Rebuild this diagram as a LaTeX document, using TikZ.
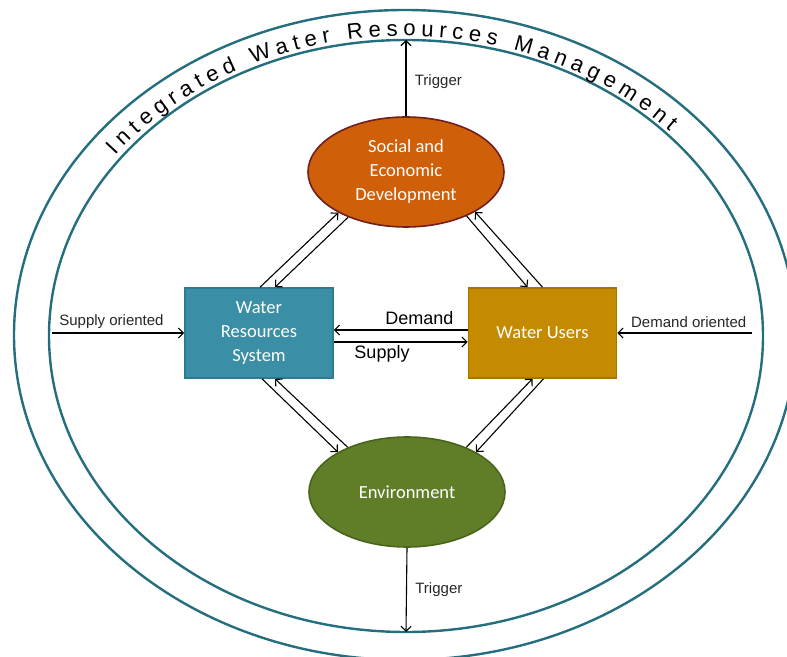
\documentclass[tikz,border=0pt]{standalone}
\usepackage{fontspec}
\setmainfont{Liberation Sans}
\newfontfamily\calibri{Carlito}
\usepackage{tikz}
\usetikzlibrary{shapes.geometric,arrows.meta,decorations.text}

\definecolor{ringteal}{RGB}{36,110,126}
\definecolor{wrsteal}{RGB}{58,143,166}
\definecolor{wrsedge}{RGB}{46,122,142}
\definecolor{usersgold}{RGB}{196,138,0}
\definecolor{usersedge}{RGB}{168,116,0}
\definecolor{socialorange}{RGB}{208,95,10}
\definecolor{socialedge}{RGB}{112,30,30}
\definecolor{envgreen}{RGB}{96,126,40}
\definecolor{envedge}{RGB}{74,100,28}
\newcommand{\titlefont}{\fontsize{22}{24}\selectfont}

\begin{document}
\begin{tikzpicture}[x=1pt,y=1pt,>={Straight Barb[length=5pt,width=10pt]},
	link/.style={->,line width=1.1pt},
	ring/.style={draw=ringteal,line width=2.4pt},
	note/.style={font=\fontsize{15}{17}\selectfont,text=black!85},
	flow/.style={font=\fontsize{18}{20}\selectfont},
	box/.style={rectangle,line width=1.6pt,minimum width=148,minimum height=90,text=white,align=center,font=\calibri\fontsize{18.5}{24}\selectfont},
	blob/.style={ellipse,line width=1.6pt,inner sep=0pt,minimum width=196,minimum height=110,text=white,align=center,font=\calibri\fontsize{18.5}{24}\selectfont}]
		\useasboundingbox (0,0) rectangle (787,656);
		\clip (0,0) rectangle (787,656);
		\draw[ring] (405,321) ellipse[x radius=391,y radius=325];
		\draw[ring] (406,320) ellipse[x radius=357,y radius=296];
		\begin{scope}
		\titlefont
		\path[decorate,decoration={text along path,text align={fit to path},text={Integrated Water Resources Management}}]
			(405,320) ++(143:362 and 300) arc[start angle=143,end angle=43,x radius=362,y radius=300];
		\end{scope}

		\node[blob,fill=socialorange,draw=socialedge] (social) at (406,484) {Social and\\Economic\\Development};
		\node[blob,fill=envgreen,draw=envedge] (env) at (407,164) {Environment};
		\node[box,fill=wrsteal,draw=wrsedge] (wrs) at (259,323) {Water\\Resources\\System};
		\node[box,fill=usersgold,draw=usersedge] (users) at (542.5,323) {Water Users};

		\coordinate (ringtop) at (406,616);
		\coordinate (ringbottom) at (406,24);
		\coordinate (supplyin) at (52,323);
		\coordinate (demandin) at (752,323);

		\draw[link] (social.north) -- (ringtop) node[note,pos=0.45,right=5pt] {Trigger};
		\draw[link] (env.south) -- (ringbottom) node[note,midway,right=5pt] {Trigger};
		\draw[link] (supplyin) -- (wrs.west) node[note,pos=0.45,above=1pt] {Supply oriented};
		\draw[link] (demandin) -- (users.east) node[note,pos=0.47,above=1pt] {Demand oriented};
		\draw[link] ([yshift=3]users.west) -- ([yshift=3]wrs.east) node[flow,pos=0.36,above=1pt] {Demand};
		\draw[link] ([yshift=-9]wrs.east) -- ([yshift=-9]users.west) node[flow,pos=0.36,below=0pt] {Supply};

		\draw[link] ([xshift=1]wrs.north) -- (social.211);
		\draw[link] (social.218) -- ([xshift=16]wrs.north);
		\draw[link] (social.324) -- ([xshift=-15]users.north);
		\draw[link] (users.north) -- (social.330);
		\draw[link] ([xshift=3]wrs.south) -- (env.150);
		\draw[link] (env.143) -- ([xshift=16]wrs.south);
		\draw[link] (env.37) -- ([xshift=-10]users.south);
		\draw[link] ([xshift=1]users.south) -- (env.30);
	\end{tikzpicture}
\end{document}
